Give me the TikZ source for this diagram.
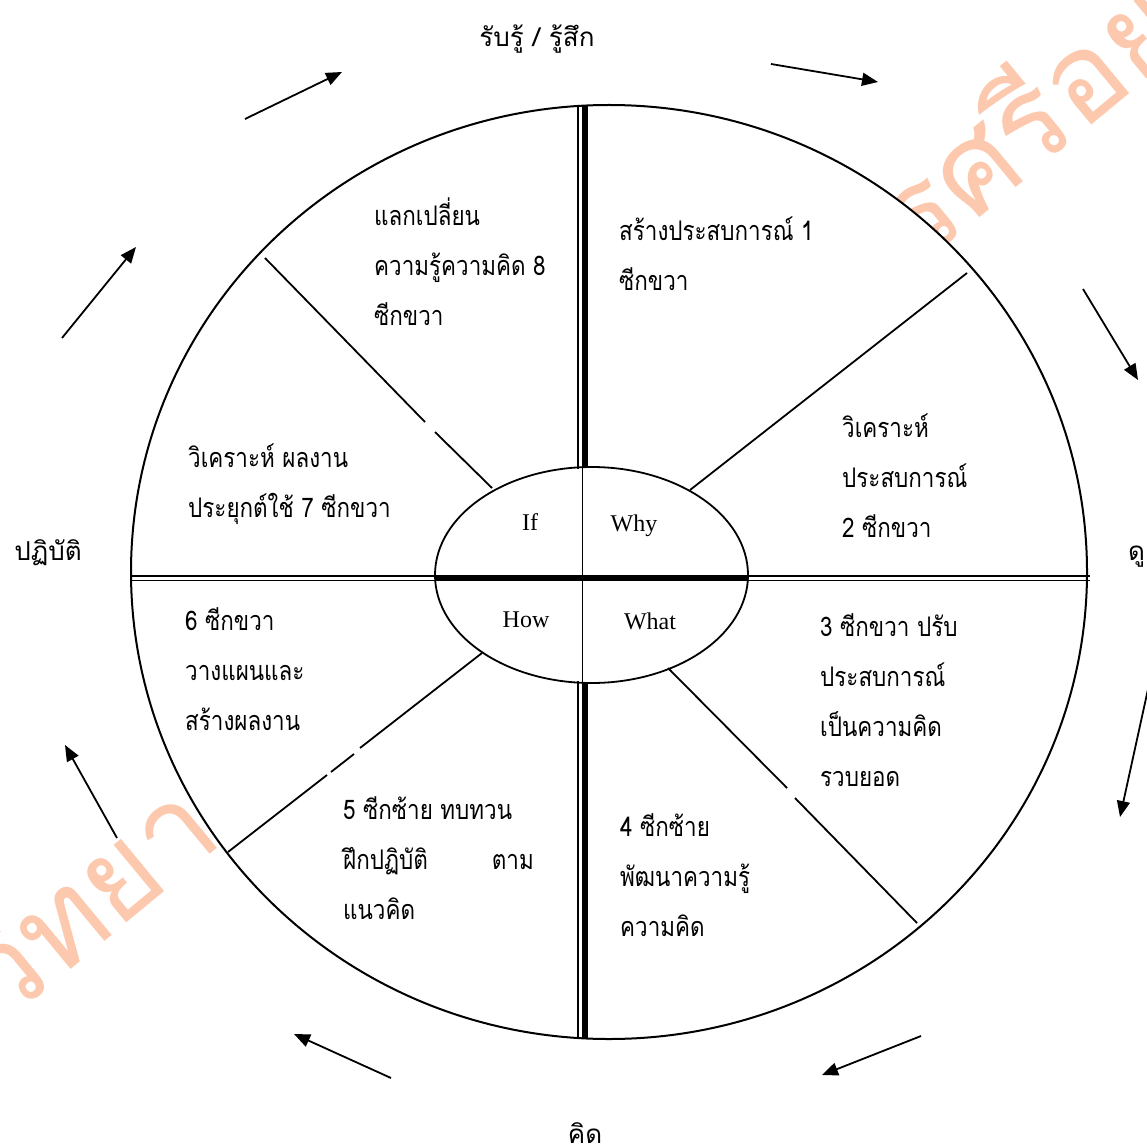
\documentclass[tikz,border=0pt]{standalone}
\usepackage{fontspec}
\setmainfont{Liberation Serif}
\newfontfamily\thaifont[Script=Thai, FakeStretch=0.83]{Loma}
\newfontfamily\thaiplain[Script=Thai]{Loma}
\usetikzlibrary{
  arrows.meta,
  calc
}
\definecolor{wmOrange}{HTML}{FDC9AE}
\tikzset{
  rim/.style={draw=black, line width=2pt, fill=white},
  spoke/.style={draw=black, line width=1.8pt},
  axisthin/.style={line width=1.8pt},
  axisthick/.style={line width=6pt},
  cyclearrow/.style={-{Triangle[length=16pt,width=13pt]}, line width=1.8pt},
  sectortext/.style={font=\thaifont\fontsize{27}{50}\selectfont, align=left,
    anchor=north west, inner sep=0pt, execute at begin node=\strut},
  hubtext/.style={font=\fontsize{24}{28}\selectfont, anchor=base, inner sep=0pt},
  sidetext/.style={font=\thaiplain\fontsize{26}{30}\selectfont, anchor=base, inner sep=0pt}
}

\begin{document}
\begin{tikzpicture}[x=1pt, y=-1pt]
  \useasboundingbox (0,0) rectangle (1146,1147);
  \node[font=\thaiplain\fontsize{122}{122}\selectfont, text=wmOrange, rotate=39.6] (wm) at (569.5,510.5) {มหาวิทยาลัยราชภัฏพระนครศรีอยุธยา};

  \coordinate (wheel) at (609,572);
  \coordinate (hub) at (591.5,575);
  \path[rim] (wheel) ellipse [x radius=478pt, y radius=467pt];

  \draw[spoke] (265,258) -- (425,422) (435,432) -- (492,488);
  \draw[spoke] (967,273) -- (690,490);
  \draw[spoke] (482,653) -- (360,748) (354,754) -- (331,772) (327,775) -- (228,852);
  \draw[spoke] (668,668) -- (787,788) (795,798) -- (917,923);
  \draw[spoke] (hub) ellipse [x radius=156.5pt, y radius=108pt];

  \draw[axisthin] (578,105) -- (578,469) (578,681) -- (578,1039);
  \draw[axisthick] (585,105) -- (585,468) (585,682) -- (585,1039);
  \draw[axisthin] (582.5,467) -- (582.5,683);
  \draw[axisthin] (131,576) -- (436,576) (131,580.5) -- (436,580.5);
  \draw[axisthin] (747,576) -- (1090,576) (747,580.5) -- (1090,580.5);
  \draw[line width=5.7pt] (436,578) -- (747,578);

  \foreach \tx/\ty/\hx/\hy [count=\i] in {245/119/342/72, 771/64/878/82, 1083/289/1138/380, 1150/680/1120/817, 921/1036/822/1075, 391/1078/294/1034, 117/838/65/745, 62/338/136/247}{
    \coordinate (tail\i) at (\tx,\ty);
    \coordinate (head\i) at (\hx,\hy);
    \draw[cyclearrow] (tail\i) -- (head\i);
  }

  \node[sidetext] (perceive) at (537,47) {รับรู้ / รู้สึก};
  \node[sidetext, anchor=base west] (look) at (1128,560) {ดู};
  \node[sidetext] (think) at (585,1143) {คิด};
  \node[sidetext] (practice) at (48,560) {ปฏิบัติ};

  \node[sectortext] (s1) at (619,217) {สร้างประสบการณ์ 1\\ซีกขวา};
  \node[sectortext] (s2) at (842,414) {วิเคราะห์\\ประสบการณ์\\2 ซีกขวา};
  \node[sectortext] (s3) at (820,613) {3 ซีกขวา ปรับ\\ประสบการณ์\\เป็นความคิด\\รวบยอด};
  \node[sectortext] (s4) at (620,813) {4 ซีกซ้าย\\พัฒนาความรู้\\ความคิด};
  \node[sectortext] (s5) at (343,796) {5 ซีกซ้าย ทบทวน\\ฝึกปฏิบัติ\hspace{64pt}ตาม\\แนวคิด};
  \node[sectortext] (s6) at (185,607) {6 ซีกขวา\\วางแผนและ\\สร้างผลงาน};
  \node[sectortext] (s7) at (188,444) {วิเคราะห์ ผลงาน\\ประยุกต์ใช้ 7 ซีกขวา};
  \node[sectortext] (s8) at (374,198) {แลกเปลี่ยน\\ความรู้ความคิด 8\\ซีกขวา};

  \node[hubtext] (qif) at (530,530) {If};
  \node[hubtext] (qwhy) at (634,531) {Why};
  \node[hubtext] (qhow) at (526,627) {How};
  \node[hubtext] (qwhat) at (650,629) {What};
\end{tikzpicture}
\end{document}
